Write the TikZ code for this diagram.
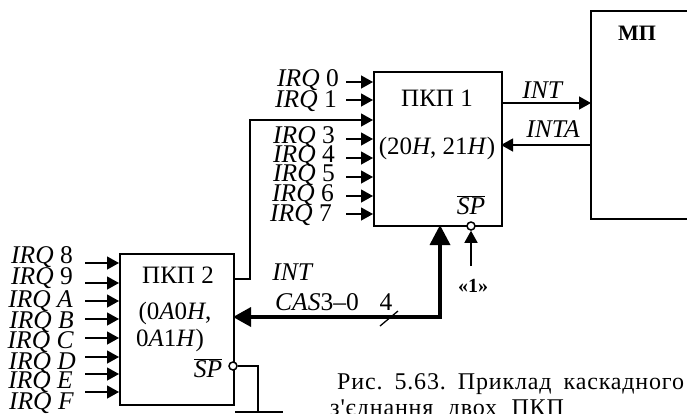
\documentclass[tikz,border=0pt]{standalone}
\usepackage{fontspec}
\setmainfont{Liberation Serif}
\newfontfamily\capfont[LetterSpace=3.5]{Liberation Serif}
\usetikzlibrary{arrows.meta,calc}
\tikzset{
  box/.style={draw,line width=2pt,inner sep=0pt},
  wire/.style={line width=1.3pt,-{Triangle[length=12pt,width=13pt]}},
  plain/.style={line width=1.3pt},
  bubble/.style={circle,draw,line width=1.5pt,fill=white,minimum size=8pt,inner sep=0pt},
  lab/.style={inner sep=0pt,font=\fontsize{25.5}{25.5}\selectfont},
  boxlab/.style={inner sep=0pt,font=\fontsize{25}{25}\selectfont},
  caplab/.style={inner sep=0pt,anchor=base west,font=\capfont\fontsize{24}{24}\selectfont}
}
\newcommand{\irq}[1]{\textit{IRQ}\ #1}
\begin{document}
\begin{tikzpicture}[x=1pt,y=-1pt]
\useasboundingbox (0,0) rectangle (687,413);
\clip (0,0) rectangle (687,413);
% boxes
\draw[box] (687,11) -- (591,11) -- (591,219) -- (687,219);
\coordinate (mpw1) at (591,103);
\coordinate (mpw2) at (591,145);
\node[box,anchor=north west,minimum width=128pt,minimum height=154pt] (p1) at (373,71) {};
\node[box,anchor=north west,minimum width=114pt,minimum height=151pt] (p2) at (119,253) {};
\node[boxlab,font=\fontsize{22}{22}\selectfont\bfseries] (mp) at (637,33) {МП};
\node[boxlab] (p1a) at (437,98) {ПКП 1};
\node[boxlab] (p1b) at (437,148) {(20\textit{H}, 21\textit{H})};
\node[boxlab] (p2a) at (178,275) {ПКП 2};
\node[boxlab] (p2b) at (175,313) {(0\textit{A}0\textit{H},};
\node[boxlab] (p2c) at (170,340) {0\textit{A}1\textit{H})};
% inputs of PKP 1
\foreach \n/\t/\lx/\ly/\ay in {0/0/339/80/82,1/1/337/101/100,3/3/335/137/139,4/4/335/156/158,5/5/335/175/177,6/6/334/195/196,7/7/332/215/214}{
  \node[lab,anchor=east] (a\n) at (\lx,\ly) {\irq{\t}};
  \coordinate (as\n) at (346,\ay);
  \coordinate (ae\n) at (373,\ay);
  \draw[wire] (as\n) -- (ae\n);
}
% inputs of PKP 2
\foreach \n/\t/\lx/\ly/\ay in {8/8/73/257/263,9/9/73/278/283,10/\textit{A}/73/301/301,11/\textit{B}/74/322/319,12/\textit{C}/74/342/338,13/\textit{D}/76/363/357,14/\textit{E}/73/382/374,15/\textit{F}/74/403/392}{
  \node[lab,anchor=east] (b\n) at (\lx,\ly) {\irq{\t}};
  \coordinate (bs\n) at (85,\ay);
  \coordinate (be\n) at (119,\ay);
  \draw[wire] (bs\n) -- (be\n);
}
% cascade INT
\coordinate (c1) at (233,279);
\coordinate (c2) at (250,279);
\coordinate (c3) at (250,120);
\coordinate (c4) at (373,120);
\draw[wire] (c1) -- (c2) -- (c3) -- (c4);
% INT / INTA
\coordinate (i1) at (501,103);
\coordinate (i2) at (501,145);
\draw[wire] (i1) -- (mpw1);
\draw[wire] (mpw2) -- (i2);
\node[lab] (intl) at (543,90) {\textit{INT}};
\node[lab] (intal) at (553,129) {\textit{INTA}};
% CAS bus
\coordinate (d1) at (440,225);
\coordinate (d2) at (440,317);
\coordinate (d3) at (233,317);
\draw[line width=3.5pt,{Triangle[length=20pt,width=20pt]}-{Triangle[length=18pt,width=19pt]},line join=miter] (d1) -- (d2) -- (d3);
\coordinate (s1) at (380,326);
\coordinate (s2) at (398,311);
\draw[plain] (s1) -- (s2);
\node[lab] (int2) at (293,272) {\textit{INT}};
\node[lab] (cas) at (317,302) {\textit{CAS}3--0};
\node[lab] (four) at (386,302) {4};
% SP of PKP 1
\node[bubble] (b1) at (471,226) {};
\coordinate (sp1s) at (471,266);
\draw[wire] (sp1s) -- (b1.south);
\node[lab] (sp1) at (471,205) {$\overline{\mbox{\textit{SP}}}$};
\node[lab,font=\fontsize{20}{20}\selectfont\bfseries] (one) at (473,286) {«1»};
% SP of PKP 2
\node[bubble] (b2) at (233,366) {};
\coordinate (g1) at (258,366);
\coordinate (g2) at (258,412);
\coordinate (g3) at (235,412);
\coordinate (g4) at (283,412);
\draw[plain] (b2.east) -- (g1) -- (g2);
\draw[plain] (g3) -- (g4);
\node[lab] (sp2) at (208,368) {$\overline{\mbox{\textit{SP}}}$};
% caption
\node[caplab] (cap1) at (337,389) {Рис.\hspace{0.5em}5.63.\hspace{0.5em}Приклад\hspace{0.5em}каскадного};
\node[caplab] (cap2) at (330,415) {з'єднання\hspace{0.6em}двох\hspace{0.6em}ПКП};
\end{tikzpicture}
\end{document}
